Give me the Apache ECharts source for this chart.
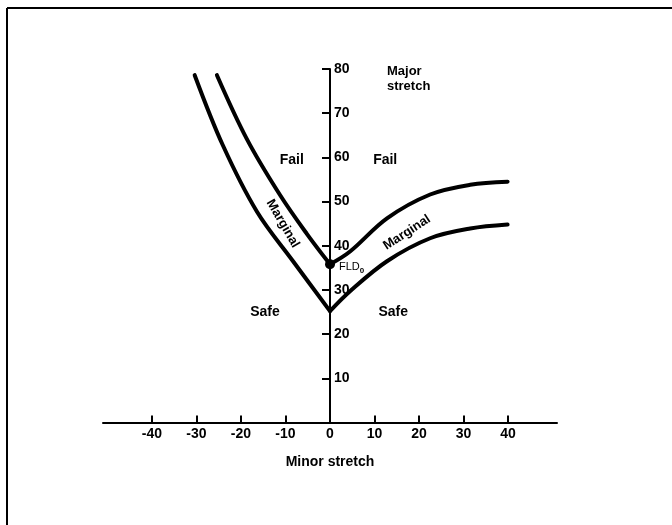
<!DOCTYPE html>
<html><head><meta charset="utf-8">
<script src="https://cdn.jsdelivr.net/npm/echarts@6/dist/echarts.min.js"></script>
<style>html,body{margin:0;padding:0;background:#fff}#c{width:672px;height:525px}</style>
</head><body><div id="c"></div>
<script>
// Data (minor stretch %, major stretch %)
var xTicks = [-40, -30, -20, -10, 0, 10, 20, 30, 40];
var yTicks = [10, 20, 30, 40, 50, 60, 70, 80];
var flcLeftX  = [-30.4, -24.1, -16.4, -8.3, 0];
var flcLeftY  = [78.6, 62.8, 47.7, 36.5, 25.2];
var flcRightX = [0, 4.5, 12.8, 22.5, 31.5, 39.9];
var flcRightY = [25.2, 29.7, 36.5, 41.7, 43.9, 44.8];
var margLeftX  = [-25.4, -18.7, -11.3, -5.2, 0];
var margLeftY  = [78.6, 64.2, 51.6, 42.7, 35.8];
var margRightX = [0, 4.5, 12.8, 22.5, 31.5, 39.9];
var margRightY = [35.8, 38.7, 46.2, 51.6, 53.8, 54.5];
var fld0 = [0, 35.8];

function pairs(xs, ys) { return xs.map(function (x, i) { return [x, ys[i]]; }); }

var FONT = '"Liberation Sans", Arial, sans-serif';
var lineStyle = { color: '#000', width: 4, cap: 'round', join: 'round' };
function curve(xs, ys) {
  return { type: 'line', data: pairs(xs, ys), smooth: 0.35, symbol: 'none', lineStyle: lineStyle, silent: true, z: 5 };
}
function textPt(coord, text, extra) {
  var lab = Object.assign({ show: true, position: 'inside', formatter: text, color: '#000',
    fontFamily: FONT, fontWeight: 'bold', fontSize: 14 }, extra || {});
  return { value: coord, symbolSize: 0, label: lab };
}

var chart = echarts.init(document.getElementById('c'), null, { renderer: 'canvas' });
chart.setOption({
  animation: false,
  backgroundColor: '#fff',
  grid: { left: 103, right: 115, top: 69, bottom: 102.5, containLabel: false },
  xAxis: {
    type: 'value', min: -51, max: 51,
    name: 'Minor stretch', nameLocation: 'middle', nameGap: 33,
    nameTextStyle: { color: '#000', fontFamily: FONT, fontWeight: 'bold', fontSize: 14 },
    axisLine: { lineStyle: { color: '#000', width: 2 } },
    axisTick: { inside: true, length: 7, customValues: xTicks, lineStyle: { color: '#000', width: 2 } },
    axisLabel: { customValues: xTicks, color: '#000', fontFamily: FONT, fontWeight: 'bold', fontSize: 14, margin: 5 },
    splitLine: { show: false }
  },
  yAxis: {
    type: 'value', min: 0, max: 80, interval: 10,
    position: 'left', offset: -227,
    axisLine: { onZero: false, lineStyle: { color: '#000', width: 2 } },
    axisTick: { length: 8, lineStyle: { color: '#000', width: 2 } },
    axisLabel: { inside: true, margin: 4, color: '#000', fontFamily: FONT, fontWeight: 'bold', fontSize: 14,
      formatter: function (v) { return yTicks.indexOf(v) >= 0 ? String(v) : ''; } },
    splitLine: { show: false }
  },
  graphic: [
    { type: 'line', shape: { x1: 7, y1: 8, x2: 672, y2: 8 }, style: { stroke: '#000', lineWidth: 2 } },
    { type: 'line', shape: { x1: 7, y1: 8, x2: 7, y2: 525 }, style: { stroke: '#000', lineWidth: 2 } }
  ],
  series: [
    curve(flcLeftX, flcLeftY),
    curve(flcRightX, flcRightY),
    curve(margLeftX, margLeftY),
    curve(margRightX, margRightY),
    { type: 'scatter', data: [fld0], symbol: 'circle', symbolSize: 10, itemStyle: { color: '#000', opacity: 1 }, z: 6, silent: true,
      label: { show: true, position: 'right', distance: 4, offset: [0, 3], color: '#000', fontFamily: FONT, fontSize: 11,
        formatter: 'FLD{s|0}', rich: { s: { fontSize: 8, fontWeight: 'bold', verticalAlign: 'bottom', padding: [6, 0, 0, 0], fontFamily: FONT } } } },
    { type: 'scatter', silent: true, z: 7, itemStyle: { opacity: 1 }, data: [
      textPt([12.8, 77.8], 'Major\nstretch', { align: 'left', lineHeight: 15, fontSize: 13 }),
      textPt([-8.6, 59.3], 'Fail'),
      textPt([12.4, 59.3], 'Fail'),
      textPt([-14.6, 25], 'Safe'),
      textPt([14.2, 25], 'Safe'),
      textPt([-10.6, 45], 'Marginal', { rotate: -60, fontSize: 13 }),
      textPt([17.3, 43], 'Marginal', { rotate: 33, fontSize: 13 })
    ] }
  ]
});
</script></body></html>
